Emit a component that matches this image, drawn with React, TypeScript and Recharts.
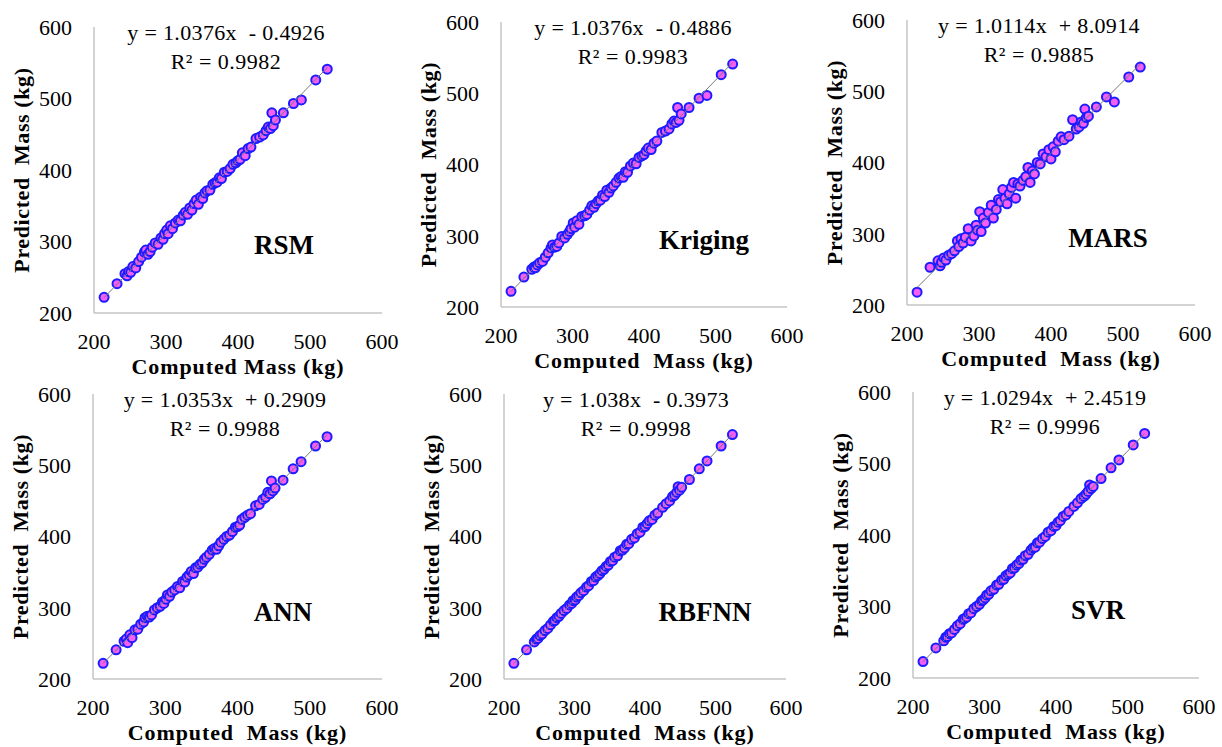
import React from "react";
import { Label, Scatter, ScatterChart, XAxis, YAxis } from "recharts";

const FONT = "'Liberation Serif', 'Times New Roman', serif";
const AXIS = "#c4c4c4";
const FILL = "#f45ef4";
const EDGE = "#1c1cff";
const TREND = "#7a7a7a";

const models = ["RSM", "Kriging", "MARS", "ANN", "RBFNN", "SVR"];
const slopes = [1.0376, 1.0376, 1.0114, 1.0353, 1.038, 1.0294];
const intercepts = [-0.4926, -0.4886, 8.0914, 0.2909, -0.3973, 2.4519];
const r2 = ["0.9982", "0.9983", "0.9885", "0.9988", "0.9998", "0.9996"];
const ticks = [200, 300, 400, 500, 600];

// computed mass (kg), shared by every model
const computedMass = [
  214, 232, 243, 246, 248, 251, 254, 258, 262, 266, 270, 272, 275, 278, 281, 285, 289, 293, 296, 298,
  301, 303, 306, 309, 313, 317, 320, 324, 327, 330, 333, 336, 339, 342, 345, 348, 351, 354, 357, 361,
  365, 368, 371, 374, 377, 381, 385, 389, 393, 397, 400, 403, 406, 410, 414, 418, 425, 430, 435, 439,
  442, 445, 447, 449, 452, 463, 477, 488, 508, 524,
];

// predicted mass (kg) per model
const rsm = [
  222, 241, 255, 252, 258, 257, 265, 263, 272, 278, 285, 288, 282, 286, 292, 298, 296, 305, 303, 311,
  316, 311, 322, 318, 326, 330, 329, 337, 341, 338, 347, 344, 353, 358, 352, 362, 360, 368, 371, 372,
  380, 382, 383, 389, 388, 397, 398, 402, 408, 410, 413, 415, 424, 420, 430, 432, 444, 446, 449, 455,
  460, 458, 480, 462, 470, 480, 493, 498, 526, 541,
];
const kriging = [
  222, 242, 253, 256, 255, 259, 262, 264, 270, 276, 283, 287, 284, 285, 290, 299, 297, 302, 306, 310,
  318, 312, 321, 316, 327, 328, 330, 336, 342, 340, 345, 349, 350, 357, 355, 364, 361, 367, 370, 375,
  381, 383, 382, 390, 389, 398, 402, 401, 410, 412, 414, 419, 423, 421, 430, 433, 445, 447, 450, 457,
  461, 459, 480, 462, 471, 480, 493, 497, 526, 541,
];
const mars = [
  218, 253, 262, 255, 260, 266, 263, 270, 272, 276, 290, 282, 293, 287, 295, 307, 290, 297, 312, 305,
  331, 303, 322, 315, 330, 340, 322, 334, 348, 345, 362, 350, 342, 356, 365, 372, 350, 370, 367, 375,
  380, 393, 372, 388, 384, 400, 398, 412, 408, 418, 405, 422, 415, 430, 436, 432, 437, 460, 447, 450,
  457, 455, 475, 463, 465, 478, 492, 485, 520, 534,
];
const ann = [
  222, 241, 253, 256, 251, 262, 258, 269, 270, 277, 280, 286, 288, 287, 290, 297, 300, 302, 308, 306,
  312, 318, 316, 322, 325, 330, 328, 337, 336, 343, 346, 351, 348, 356, 357, 361, 363, 368, 371, 375,
  381, 383, 382, 387, 392, 396, 400, 402, 407, 413, 414, 416, 424, 427, 430, 432, 443, 445, 452, 455,
  462, 460, 478, 464, 468, 479, 495, 505, 527, 540,
];
const rbfnn = [
  222, 241, 252, 256, 257, 261, 263, 268, 271, 276, 281, 282, 286, 288, 292, 296, 299, 304, 306, 310,
  311, 315, 317, 321, 324, 329, 331, 337, 338, 343, 345, 348, 352, 354, 358, 360, 365, 366, 371, 373,
  380, 381, 384, 389, 390, 396, 398, 404, 406, 413, 414, 418, 422, 424, 430, 433, 441, 446, 450, 456,
  458, 462, 470, 465, 469, 480, 495, 506, 527, 543,
];
const svr = [
  223, 242, 252, 257, 258, 262, 263, 268, 273, 276, 282, 283, 285, 290, 291, 297, 300, 303, 308, 309,
  312, 316, 317, 322, 324, 330, 331, 337, 338, 343, 345, 347, 353, 354, 358, 360, 365, 366, 371, 373,
  379, 382, 383, 389, 390, 395, 398, 404, 406, 412, 413, 418, 420, 426, 428, 433, 440, 445, 451, 454,
  457, 461, 470, 465, 468, 479, 494, 505, 526, 542,
];
const predicted = [rsm, kriging, mars, ann, rbfnn, svr];

// plot area of each panel on the page, and x of the model tag inside it
const frames = [
  { left: 94, top: 27, w: 288, h: 286, tag: 190 },
  { left: 501, top: 22, w: 286, h: 285, tag: 203 },
  { left: 907, top: 20, w: 288, h: 285, tag: 201 },
  { left: 93, top: 394, w: 289, h: 285, tag: 190 },
  { left: 504, top: 394, w: 282, h: 285, tag: 201 },
  { left: 913, top: 392, w: 286, h: 286, tag: 185 },
];

const YW = 146;
const TOP = 30;
const RIGHT = 30;
const XH = 70;

const tickStyle = { fontFamily: FONT, fontSize: 22, fill: "#000" };

const Dot = (p: any) => <circle cx={p.cx} cy={p.cy} r={4.5} fill={FILL} stroke={EDGE} strokeWidth={2} />;

function Panel({ i }: { i: number }) {
  const f = frames[i];
  const pts = computedMass.map((x, k) => ({ x, y: predicted[i][k] }));
  const lo = Math.min(...computedMass);
  const hi = Math.max(...computedMass);
  const trend = [lo, hi].map((x) => ({ x, y: slopes[i] * x + intercepts[i] }));
  const b = intercepts[i];
  const eq = `y = ${slopes[i]}x  ${b < 0 ? "-" : "+"} ${Math.abs(b)}`;
  const cx = YW + 132;
  return (
    <div style={{ position: "absolute", left: f.left - YW, top: f.top - TOP }}>
      <ScatterChart
        width={YW + f.w + RIGHT}
        height={TOP + f.h + XH}
        margin={{ top: TOP, right: RIGHT, bottom: 0, left: 0 }}
      >
        <XAxis
          type="number"
          dataKey="x"
          domain={[200, 600]}
          ticks={ticks}
          interval={0}
          height={XH}
          axisLine={{ stroke: AXIS, strokeWidth: 1.5 }}
          tickLine={false}
          tickSize={0}
          tickMargin={20}
          tick={tickStyle}
        >
          <Label
            value={i === 0 ? "Computed Mass (kg)" : "Computed\u00A0 Mass (kg)"}
            position="insideBottom"
            offset={9}
            fontFamily={FONT}
            fontWeight="bold"
            fontSize={22}
            letterSpacing={0.9}
            fill="#000"
          />
        </XAxis>
        <YAxis
          type="number"
          dataKey="y"
          domain={[200, 600]}
          ticks={ticks}
          interval={0}
          width={YW}
          axisLine={{ stroke: AXIS, strokeWidth: 1.5 }}
          tickLine={false}
          tickSize={0}
          tickMargin={22}
          tick={tickStyle}
        >
          <Label
            value={"Predicted\u00A0 Mass (kg)"}
            position="center"
            angle={-90}
            fontFamily={FONT}
            fontWeight="bold"
            fontSize={22}
            letterSpacing={0.6}
            fill="#000"
          />
        </YAxis>
        <Scatter data={pts} shape={Dot} isAnimationActive={false} />
        <Scatter
          data={trend}
          line={{ stroke: TREND, strokeWidth: 1 }}
          shape={() => <g />}
          isAnimationActive={false}
        />
        <text
          x={cx}
          y={TOP + 5}
          textAnchor="middle"
          dominantBaseline="central"
          style={{ whiteSpace: "pre" }}
          fontFamily={FONT}
          fontSize={22}
          letterSpacing={0.35}
          fill="#000"
        >
          {eq}
        </text>
        <text
          x={cx}
          y={TOP + 34}
          textAnchor="middle"
          dominantBaseline="central"
          fontFamily={FONT}
          fontSize={22}
          letterSpacing={0.5}
          fill="#000"
        >
          {`R\u00B2 = ${r2[i]}`}
        </text>
        <text
          x={YW + f.tag}
          y={TOP + 218}
          textAnchor="middle"
          dominantBaseline="central"
          fontFamily={FONT}
          fontWeight="bold"
          fontSize={27}
          fill="#000"
        >
          {models[i]}
        </text>
      </ScatterChart>
    </div>
  );
}

export default function App() {
  return (
    <div
      style={{
        position: "absolute",
        left: 0,
        top: 0,
        width: 1222,
        height: 747,
        overflow: "hidden",
        background: "#fff",
      }}
    >
      {models.map((_, i) => (
        <Panel key={i} i={i} />
      ))}
    </div>
  );
}
